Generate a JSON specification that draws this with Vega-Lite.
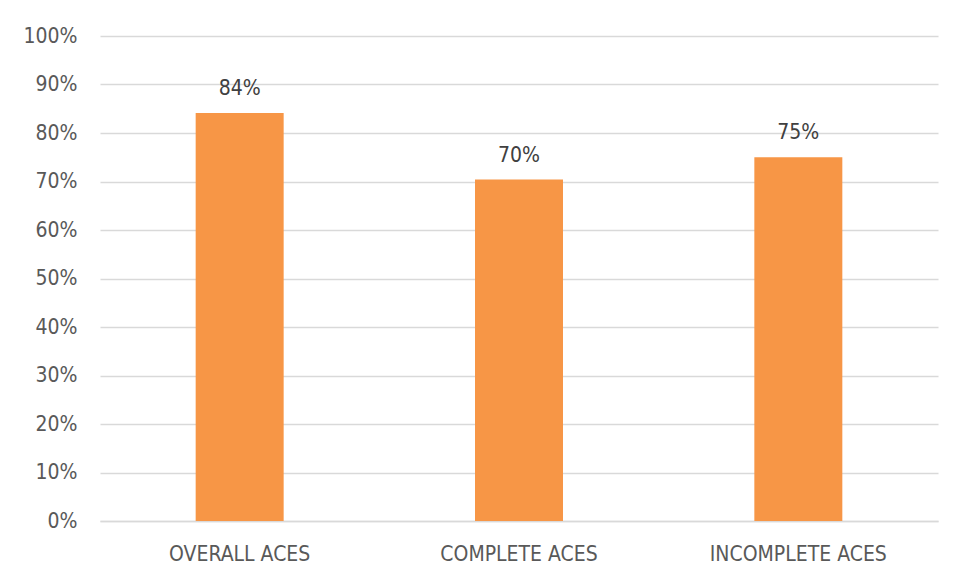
{
  "$schema": "https://vega.github.io/schema/vega-lite/v6.json",
  "width": 838,
  "height": 485,
  "autosize": {"type": "none"},
  "padding": {"left": 100, "top": 36, "right": 17, "bottom": 58},
  "background": "#ffffff",
  "config": {
    "view": {"stroke": null},
    "font": "DejaVu Sans Condensed, Liberation Sans Narrow, Liberation Sans, sans-serif"
  },
  "data": {
    "values": [
      {"category": "OVERALL ACES", "value": 0.841},
      {"category": "COMPLETE ACES", "value": 0.704},
      {"category": "INCOMPLETE ACES", "value": 0.75}
    ]
  },
  "encoding": {
    "x": {
      "field": "category",
      "type": "nominal",
      "sort": null,
      "scale": {"paddingInner": 0.685, "paddingOuter": 0.3425},
      "axis": {
        "title": null,
        "labelAngle": 0,
        "ticks": false,
        "tickSize": 0,
        "domain": true,
        "domainColor": "#d9d9d9",
        "domainWidth": 1.5,
        "labelPadding": 39,
        "labelBaseline": "alphabetic",
        "labelFontSize": 21,
        "labelColor": "#595959"
      }
    },
    "y": {
      "field": "value",
      "type": "quantitative",
      "scale": {"domain": [0, 1], "nice": false},
      "axis": {
        "title": null,
        "values": [0, 0.1, 0.2, 0.3, 0.4, 0.5, 0.6, 0.7, 0.8, 0.9, 1],
        "format": ".0%",
        "ticks": false,
        "tickSize": 0,
        "domain": false,
        "grid": true,
        "gridColor": "#d9d9d9",
        "gridWidth": 1.5,
        "labelPadding": 23,
        "labelFontSize": 21,
        "labelColor": "#595959"
      }
    }
  },
  "layer": [
    {"mark": {"type": "bar", "color": "#F79646"}},
    {
      "mark": {"type": "text", "baseline": "alphabetic", "dy": -18, "fontSize": 21, "color": "#404040"},
      "encoding": {"text": {"field": "value", "type": "quantitative", "format": ".0%"}}
    }
  ]
}
